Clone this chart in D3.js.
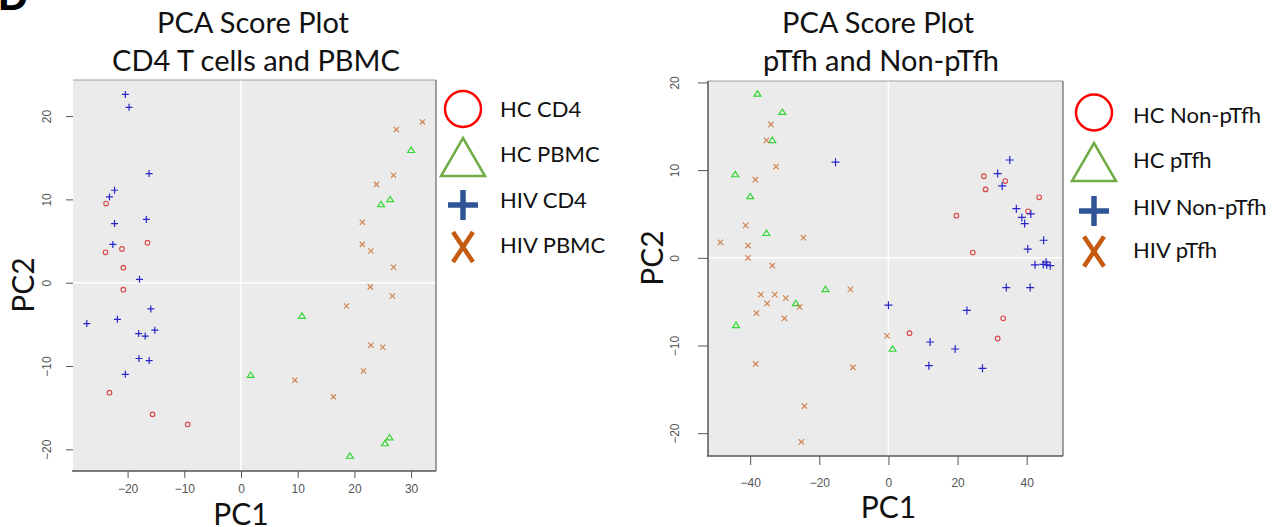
<!DOCTYPE html>
<html>
<head>
<meta charset="utf-8">
<script src="https://cdn.jsdelivr.net/npm/d3@7"></script>
<style>
  body { margin: 0; background: #fff; }
  svg { display: block; }
  .tick text { font-family: "Liberation Sans", Arial, sans-serif; font-size: 12px; fill: #555; }
  .tick line { stroke: #555; }
  .lbl { font-family: Lato, "Open Sans", sans-serif; fill: #111; }
</style>
</head>
<body>
<svg id="chart" width="1285" height="527"></svg>
<script>
// ---- data: PCA scores [PC1, PC2] ----
let hcCd4 = [[-23.8, 9.5], [-23.9, 3.65], [-21.0, 4.05], [-16.5, 4.8], [-20.75, 1.8], [-20.75, -0.84],
  [-23.2, -13.2], [-15.6, -15.8], [-9.4, -17.0]];
let hcPbmc = [[10.75, -4.0], [1.7, -11.1], [19.2, -20.8], [25.4, -19.3], [26.2, -18.6], [30.0, 15.9],
  [26.3, 10.0], [24.7, 9.4]];
let hivCd4 = [[-20.4, 22.6], [-19.75, 21.05], [-16.2, 13.1], [-22.3, 11.1], [-23.2, 10.3], [-22.3, 7.1],
  [-16.7, 7.6], [-22.6, 4.6], [-17.9, 0.4], [-15.9, -3.15], [-27.2, -4.9], [-21.8, -4.4], [-18.05, -6.1],
  [-16.9, -6.4], [-15.2, -5.7], [-18.0, -9.1], [-16.2, -9.35], [-20.4, -11.0]];
let hivPbmc = [[22.8, -0.5], [26.7, -1.6], [18.6, -2.8], [22.9, -7.5], [25.0, -7.75], [21.6, -10.6],
  [9.5, -11.7], [16.3, -13.7], [32.0, 19.3], [27.4, 18.4], [26.9, 12.9], [23.9, 11.8], [21.4, 7.25],
  [21.4, 4.6], [22.9, 3.8], [26.9, 1.85]];

let hcNonPtfh = [[6.1, -8.6], [33.2, -6.9], [31.6, -9.2], [27.6, 9.3], [33.8, 8.75], [28.1, 7.8],
  [43.6, 6.9], [40.4, 5.3], [19.65, 4.8], [24.4, 0.6]];
let hcPtfh = [[-37.9, 18.7], [-30.7, 16.6], [-33.6, 13.4], [-44.3, 9.5], [-40.0, 7.0], [-35.3, 2.8],
  [-18.2, -3.6], [-26.8, -5.2], [-44.1, -7.7], [1.2, -10.4]];
let hivNonPtfh = [[-15.3, 10.9], [0.0, -5.4], [22.7, -6.0], [12.05, -9.6], [19.3, -10.4], [11.7, -12.3],
  [27.2, -12.6], [34.1, -3.4], [41.0, -3.4], [35.1, 11.15], [31.6, 9.6], [32.9, 8.2], [37.0, 5.6],
  [38.6, 4.6], [41.2, 5.0], [39.4, 3.9], [44.9, 2.0], [40.3, 1.0], [42.4, -0.8], [44.8, -0.75],
  [45.6, -0.5], [45.8, -0.8], [46.8, -0.9]];
let hivPtfh = [[-34.0, 15.2], [-35.3, 13.4], [-32.5, 10.4], [-38.5, 8.9], [-41.3, 3.7], [-48.6, 1.77],
  [-40.6, 1.4], [-40.6, 0.0], [-24.6, 2.3], [-33.6, -0.9], [-11.0, -3.6], [-36.9, -4.2], [-32.9, -4.2],
  [-35.1, -5.2], [-29.7, -4.6], [-25.7, -5.6], [-38.2, -6.3], [-30.1, -6.9], [-0.4, -8.9], [-38.4, -12.1],
  [-10.3, -12.5], [-24.3, -16.9], [-25.2, -21.0]];

let leftNames = ["HC CD4", "HC PBMC", "HIV CD4", "HIV PBMC"];
let rightNames = ["HC Non-pTfh", "HC pTfh", "HIV Non-pTfh", "HIV pTfh"];
let leftXTicks = [-20, -10, 0, 10, 20, 30];
let leftYTicks = [-20, -10, 0, 10, 20];
let rightXTicks = [-40, -20, 0, 20, 40];
let rightYTicks = [-20, -10, 0, 10, 20];

let shapes = ["circle", "triangle", "plus", "cross"];
let pointColors = ["#d94a4a", "#33d633", "#2626c8", "#d08550"];
let legendColors = ["#ff0000", "#70ad47", "#2f5597", "#c55a11"];

let svg = d3.select("#chart");

function shapePath(shape, s) {
  if (shape == "circle") return d3.arc()({innerRadius: 0, outerRadius: s, startAngle: 0, endAngle: 2 * Math.PI});
  if (shape == "triangle") return `M0,${-s * 1.05}L${s * 1.15},${s * 0.75}L${-s * 1.15},${s * 0.75}Z`;
  if (shape == "plus") return `M${-s},0H${s}M0,${-s}V${s}`;
  return `M${-s},${-s}L${s},${s}M${-s},${s}L${s},${-s}`;
}

function panel(opt) {
  let g = svg.append("g");
  let x = d3.scaleLinear().domain(opt.xlim).range([opt.left, opt.right]);
  let y = d3.scaleLinear().domain(opt.ylim).range([opt.bottom, opt.top]);

  g.append("rect")
    .attr("x", opt.left).attr("y", opt.top)
    .attr("width", opt.right - opt.left).attr("height", opt.bottom - opt.top)
    .attr("fill", "#ebebeb");

  // white zero lines
  g.append("line").attr("x1", x(0)).attr("x2", x(0)).attr("y1", opt.top).attr("y2", opt.bottom)
    .attr("stroke", "#fff").attr("stroke-width", 1.5);
  g.append("line").attr("x1", opt.left).attr("x2", opt.right).attr("y1", y(0)).attr("y2", y(0))
    .attr("stroke", "#fff").attr("stroke-width", 1.5);

  // borders
  g.append("line").attr("x1", opt.left).attr("x2", opt.right).attr("y1", opt.top).attr("y2", opt.top)
    .attr("stroke", "#a0a0a0").attr("stroke-width", 1);
  g.append("line").attr("x1", opt.right).attr("x2", opt.right).attr("y1", opt.top).attr("y2", opt.bottom)
    .attr("stroke", "#666").attr("stroke-width", 1.2);
  g.append("line").attr("x1", opt.left - 1).attr("x2", opt.right).attr("y1", opt.bottom).attr("y2", opt.bottom)
    .attr("stroke", "#555").attr("stroke-width", 1.5);
  if (opt.leftLine) {
    g.append("line").attr("x1", opt.left).attr("x2", opt.left).attr("y1", opt.top).attr("y2", opt.bottom)
      .attr("stroke", "#555").attr("stroke-width", 1.5);
  }

  let xa = g.append("g").attr("transform", `translate(0,${opt.bottom})`)
    .call(d3.axisBottom(x).tickValues(opt.xTicks).tickSize(opt.xTick).tickPadding(opt.xPad));
  xa.select(".domain").remove();

  let ya = g.append("g").attr("transform", `translate(${opt.left},0)`)
    .call(d3.axisLeft(y).tickValues(opt.yTicks).tickSize(opt.yTick).tickPadding(0));
  ya.select(".domain").remove();
  ya.selectAll(".tick text")
    .attr("x", 0).attr("dy", null)
    .attr("text-anchor", "middle")
    .attr("transform", `translate(${opt.yLabX},0) rotate(-90)`);

  opt.groups.forEach((pts, i) => {
    g.append("g").selectAll("path").data(pts).join("path")
      .attr("transform", d => `translate(${x(d[0])},${y(d[1])})`)
      .attr("d", shapePath(shapes[i], opt.sizes[i]))
      .attr("fill", "none")
      .attr("stroke", pointColors[i])
      .attr("stroke-width", 1.2);
  });

  // legend
  let lg = g.append("g");
  opt.names.forEach((name, i) => {
    let sizes = [18, 19, 15, 12];
    let widths = [2.5, 2.5, 5.5, 4.5];
    let sy = opt.legSymY[i];
    let p = lg.append("path")
      .attr("transform", `translate(${opt.legX},${sy})`)
      .attr("fill", "none")
      .attr("stroke", legendColors[i])
      .attr("stroke-width", widths[i]);
    if (shapes[i] == "cross") p.attr("d", "M-10,-15L10,15M10,-15L-10,15");
    else if (shapes[i] == "triangle") p.attr("d", "M0,-19L22,19L-22,19Z");
    else p.attr("d", shapePath(shapes[i], sizes[i]));
    lg.append("text").attr("class", "lbl")
      .attr("x", opt.legTextX).attr("y", opt.legTextY[i])
      .attr("font-size", 22)
      .text(name);
  });

  // titles
  g.append("text").attr("class", "lbl").attr("text-anchor", "middle")
    .attr("x", opt.titleX).attr("y", 33).attr("font-size", 29).text("PCA Score Plot");
  g.append("text").attr("class", "lbl").attr("text-anchor", "middle")
    .attr("x", opt.titleX + 3).attr("y", 71).attr("font-size", 29).text(opt.subtitle);

  g.append("text").attr("class", "lbl").attr("text-anchor", "middle")
    .attr("x", x(0)).attr("y", opt.pc1Y).attr("font-size", 30).text("PC1");
  g.append("text").attr("class", "lbl").attr("text-anchor", "middle")
    .attr("transform", `translate(${opt.pc2X},${opt.pc2Y}) rotate(-90)`)
    .attr("font-size", 30).text("PC2");
}

panel({
  left: 73, right: 436, top: 80, bottom: 471,
  xlim: [-29.63, 34.39], ylim: [-22.6, 24.33],
  xTicks: leftXTicks, yTicks: leftYTicks, yLabX: -22,
  xTick: 7, xPad: 6, yTick: 7,
  leftLine: false,
  groups: [hcCd4, hcPbmc, hivCd4, hivPbmc],
  sizes: [2.3, 3, 3.5, 2.6],
  names: leftNames,
  legX: 463, legSymY: [109, 157, 205, 247], legTextX: 500, legTextY: [117, 162, 208, 253],
  titleX: 253, subtitle: "CD4 T cells and PBMC",
  pc1Y: 525, pc2X: 34, pc2Y: 285
});

panel({
  left: 708, right: 1063, top: 81, bottom: 456,
  xlim: [-52.2, 50.5], ylim: [-22.6, 20.16],
  xTicks: rightXTicks, yTicks: rightYTicks, yLabX: -29,
  xTick: 9, xPad: 13, yTick: 10,
  leftLine: true,
  groups: [hcNonPtfh, hcPtfh, hivNonPtfh, hivPtfh],
  sizes: [2.3, 3, 4, 2.7],
  names: rightNames,
  legX: 1094, legSymY: [112.5, 162, 211, 251.5], legTextX: 1133, legTextY: [123, 168, 215, 258],
  titleX: 878, subtitle: "pTfh and Non-pTfh",
  pc1Y: 518, pc2X: 663, pc2Y: 258
});

// panel letter, mostly cut off at the top
svg.append("text")
  .attr("x", -2).attr("y", 10)
  .attr("font-family", "Liberation Sans, Arial, sans-serif")
  .attr("font-weight", "bold").attr("font-size", 42)
  .text("D");
</script>
</body>
</html>
